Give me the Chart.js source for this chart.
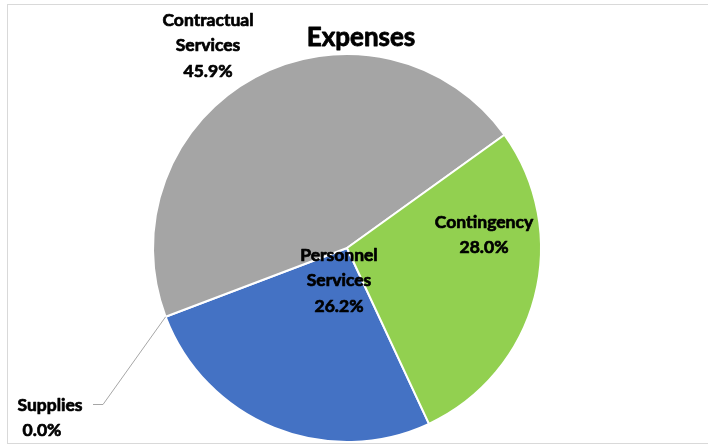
<!DOCTYPE html>
<html>
<head>
<meta charset="utf-8">
<script src="https://cdn.jsdelivr.net/npm/chart.js@4"></script>
<style>
  html, body { margin: 0; padding: 0; background: #fff; }
  #wrap { position: relative; width: 708px; height: 445px; }
</style>
</head>
<body>
<div id="wrap"><canvas id="expenses" width="708" height="445"></canvas></div>
<script>
var categories = ['Personnel Services', 'Supplies', 'Contractual Services', 'Contingency'];
var percents = [26.2, 0.0, 45.9, 28.0];
var sliceColors = ['#4472C4', '#ED7D31', '#A5A5A5', '#92D050'];

var FONT = 'Lato, "Open Sans", sans-serif';

// where each slice's label text sits (centre of the text block)
var labelSpots = [
  { x: 339, y: 255, lines: ['Personnel', 'Services'] },
  { x: 50, y: 405, lines: ['Supplies'] },
  { x: 208, y: 20, lines: ['Contractual', 'Services'] },
  { x: 484, y: 222, lines: ['Contingency'] }
];

function boldText(c, t, x, y, w) {
  c.lineWidth = w;
  c.strokeText(t, x, y);
  c.fillText(t, x, y);
}

var labelsPlugin = {
  id: 'pieLabels',
  beforeDraw: function(chart) {
    var c = chart.ctx;
    c.save();
    c.strokeStyle = '#D9D9D9';
    c.lineWidth = 1;
    c.strokeRect(7.5, 4.5, 720, 439);
    c.restore();
  },
  afterDraw: function(chart) {
    var c = chart.ctx;
    var arcs = chart.getDatasetMeta(0).data;
    c.save();

    // leader line for the empty slice
    var sup = arcs[1];
    var px = sup.x + Math.cos(sup.startAngle) * sup.outerRadius;
    var py = sup.y + Math.sin(sup.startAngle) * sup.outerRadius;
    c.strokeStyle = '#A6A6A6';
    c.lineWidth = 1;
    c.beginPath();
    c.moveTo(px, py);
    c.lineTo(103, 404.5);
    c.lineTo(93, 404.5);
    c.stroke();

    c.fillStyle = '#000';
    c.strokeStyle = '#000';
    c.lineJoin = 'round';
    c.textAlign = 'center';
    c.textBaseline = 'middle';
    c.font = 'bold 17.5px ' + FONT;
    labelSpots.forEach(function(s, i) {
      var lines = s.lines.concat([percents[i].toFixed(1) + '%']);
      lines.forEach(function(t, k) {
        var x = s.x;
        if (i === 1 && k === 1) x = 42;
        boldText(c, t, x, s.y + k * 25.5, 0.7);
      });
    });

    c.font = 'bold 26px ' + FONT;
    boldText(c, 'Expenses', 361, 38, 0.8);
    c.restore();
  }
};

new Chart(document.getElementById('expenses'), {
  type: 'pie',
  data: {
    labels: categories,
    datasets: [{
      data: percents,
      backgroundColor: sliceColors,
      borderColor: '#FFFFFF',
      borderWidth: 2
    }]
  },
  options: {
    responsive: false,
    animation: false,
    rotation: 155,
    layout: { padding: { top: 53, bottom: 2, left: 152, right: 166 } },
    plugins: {
      legend: { display: false },
      title: { display: false },
      tooltip: { enabled: false }
    }
  },
  plugins: [labelsPlugin]
});
</script>
</body>
</html>
